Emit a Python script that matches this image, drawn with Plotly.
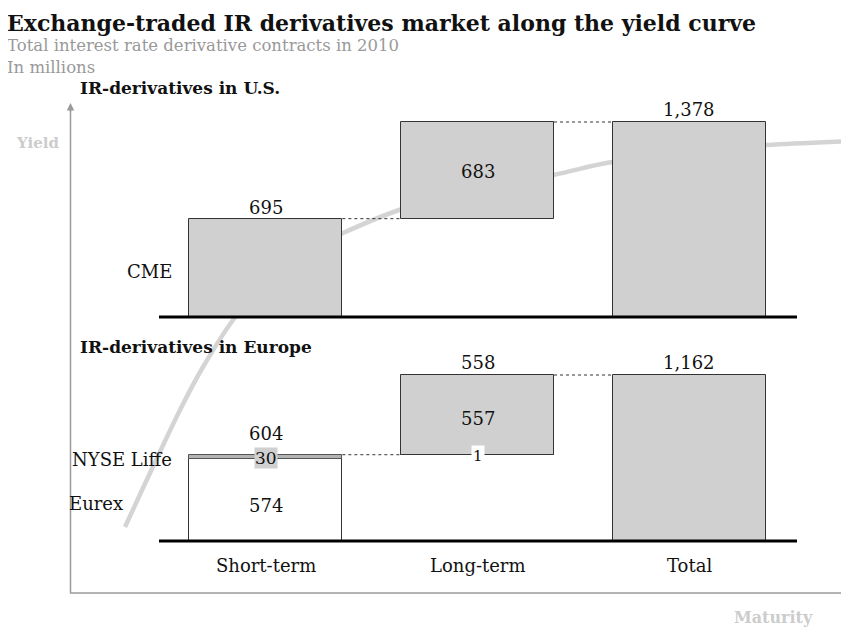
import plotly.graph_objects as go

# ---------------- data ----------------
categories = ["Short-term", "Long-term", "Total"]

# U.S. (CME)
us_values = [695, 683, 1378]
us_bases = [0, 695, 0]
us_labels = ["695", "683", "1,378"]

# Europe
eu_eurex = [574, 1]
eu_eurex_base = [0, 604]
eu_liffe = [30, 557]
eu_liffe_base = [574, 605]
eu_total = [1162]
eu_top_labels = ["604", "558", "1,162"]

# illustrative yield curve (pixel points)
curve_px = [(125, 527), (150, 473), (180, 410), (203, 367), (233, 320), (262, 287),
            (292, 262), (320, 246), (343, 233), (402, 209), (470, 191), (553, 175),
            (612, 162), (690, 152), (767, 145), (852, 141)]

# ---------------- layout constants ----------------
OFF = 8                      # default page margin of the html body
W, H = 849 - OFF, 627 - OFF  # figure size
FONT = "DejaVu Serif"
GRAY = "#d0d0d0"
EDGE = "#333333"
X0, X1 = 160, 795            # plot area (window px)
TOP_BASE, TOP_TOP = 317, 100
BOT_BASE, BOT_TOP = 541, 360
TOP_SCALE = 195 / 1378       # px per unit
BOT_SCALE = 166 / 1162
BW = 0.723


def px(x):
    return (x - OFF) / W


def py(y):
    return (H - (y - OFF)) / H


fig = go.Figure()

# top panel bars
fig.add_trace(go.Bar(x=categories, y=us_values, base=us_bases, width=BW,
                     marker=dict(color=GRAY, line=dict(color=EDGE, width=1)),
                     xaxis="x", yaxis="y", hoverinfo="skip", showlegend=False))
# bottom panel bars
fig.add_trace(go.Bar(x=categories[:2], y=eu_eurex, base=eu_eurex_base, width=BW,
                     marker=dict(color="white", line=dict(color=EDGE, width=1)),
                     xaxis="x2", yaxis="y2", hoverinfo="skip", showlegend=False))
fig.add_trace(go.Bar(x=categories[:2], y=eu_liffe, base=eu_liffe_base, width=BW,
                     marker=dict(color=["#b4b4b4", GRAY], line=dict(color=["#555555", EDGE], width=1)),
                     xaxis="x2", yaxis="y2", hoverinfo="skip", showlegend=False))
fig.add_trace(go.Bar(x=categories[2:], y=eu_total, base=[0], width=BW,
                     marker=dict(color=GRAY, line=dict(color=EDGE, width=1)),
                     xaxis="x2", yaxis="y2", hoverinfo="skip", showlegend=False))

shapes = []
annotations = []

# yield curve path (smooth, below everything)
pts = [(px(x), py(y)) for x, y in curve_px]
path = f"M {pts[0][0]},{pts[0][1]}"
for i in range(len(pts) - 1):
    p0 = pts[i - 1] if i > 0 else pts[i]
    p1 = pts[i]
    p2 = pts[i + 1]
    p3 = pts[i + 2] if i + 2 < len(pts) else pts[i + 1]
    c1 = (p1[0] + (p2[0] - p0[0]) / 6, p1[1] + (p2[1] - p0[1]) / 6)
    c2 = (p2[0] - (p3[0] - p1[0]) / 6, p2[1] - (p3[1] - p1[1]) / 6)
    path += f" C {c1[0]},{c1[1]} {c2[0]},{c2[1]} {p2[0]},{p2[1]}"
shapes.append(dict(type="path", path=path, xref="paper", yref="paper", layer="below",
                   line=dict(color="#d4d4d4", width=4.5)))

# axes (yield / maturity)
AX = "#9a9a9a"
shapes.append(dict(type="line", xref="paper", yref="paper", x0=px(70.5), x1=px(70.5),
                   y0=py(593), y1=py(108), line=dict(color=AX, width=1.5), layer="below"))
shapes.append(dict(type="line", xref="paper", yref="paper", x0=px(70), x1=px(849),
                   y0=py(593), y1=py(593), line=dict(color=AX, width=1.5), layer="below"))
shapes.append(dict(type="line", xref="paper", yref="paper", x0=px(848), x1=px(848),
                   y0=py(589), y1=py(597), line=dict(color=AX, width=1.5), layer="below"))
annotations.append(dict(x=px(70.5), y=py(103), xref="paper", yref="paper", text="",
                        showarrow=True, ax=0, ay=10, arrowhead=2, arrowsize=1,
                        arrowwidth=1.5, arrowcolor=AX))
annotations.append(dict(x=px(61), y=py(143), xref="paper", yref="paper", text="<b>Yield</b>",
                        showarrow=False, xanchor="right", yanchor="middle",
                        font=dict(family=FONT, size=15, color="#cccccc")))
annotations.append(dict(x=px(815), y=py(617), xref="paper", yref="paper", text="<b>Maturity</b>",
                        showarrow=False, xanchor="right", yanchor="middle",
                        font=dict(family=FONT, size=16, color="#cccccc")))

# baselines
for yb in (TOP_BASE, BOT_BASE):
    shapes.append(dict(type="line", xref="paper", yref="paper", x0=px(159), x1=px(797),
                       y0=py(yb), y1=py(yb), line=dict(color="black", width=3)))

# connectors
half = BW / 2
us_cum = us_bases[1] + us_values[1]
shapes.append(dict(type="line", xref="x", yref="y", x0=0 + half, x1=1 - half,
                   y0=us_values[0], y1=us_values[0], line=dict(color=EDGE, width=1, dash="dot")))
shapes.append(dict(type="line", xref="x", yref="y", x0=1 + half, x1=2 - half,
                   y0=us_cum, y1=us_cum, line=dict(color=EDGE, width=1, dash="dot")))
eu_short = eu_liffe_base[0] + eu_liffe[0]
eu_long = eu_liffe_base[1] + eu_liffe[1]
shapes.append(dict(type="line", xref="x2", yref="y2", x0=0 + half, x1=1 - half,
                   y0=eu_short, y1=eu_short, line=dict(color=EDGE, width=1, dash="dot")))
shapes.append(dict(type="line", xref="x2", yref="y2", x0=1 + half, x1=2 - half,
                   y0=eu_long, y1=eu_long, line=dict(color=EDGE, width=1, dash="dot")))

VF = dict(family=FONT, size=18, color="#111111")
LF = dict(family=FONT, size=18, color="#111111")

# top panel value labels
annotations.append(dict(x=categories[0], y=us_values[0], xref="x", yref="y", text=us_labels[0],
                        showarrow=False, yanchor="bottom", yshift=-1, font=VF))
annotations.append(dict(x=categories[1], y=us_bases[1] + us_values[1] / 2, xref="x", yref="y",
                        text=us_labels[1], showarrow=False, yanchor="middle", yshift=-1, font=VF))
annotations.append(dict(x=categories[2], y=us_values[2], xref="x", yref="y", text=us_labels[2],
                        showarrow=False, yanchor="bottom", yshift=0, font=VF))
annotations.append(dict(x=px(174), y=us_values[0] / 2, xref="paper", yref="y", text="CME",
                        showarrow=False, xanchor="right", yanchor="middle", yshift=-4, font=LF))

# bottom panel value labels
annotations.append(dict(x=categories[0], y=eu_short, xref="x2", yref="y2", text=eu_top_labels[0],
                        showarrow=False, yanchor="bottom", yshift=9, font=VF))
annotations.append(dict(x=categories[0], y=eu_liffe_base[0] + eu_liffe[0] / 2, xref="x2", yref="y2",
                        text=str(eu_liffe[0]), showarrow=False, yanchor="middle", bgcolor=GRAY,
                        borderpad=0, yshift=-1, font=dict(family=FONT, size=17, color="#111111")))
annotations.append(dict(x=categories[0], y=eu_eurex[0] / 2, xref="x2", yref="y2", text=str(eu_eurex[0]),
                        showarrow=False, yanchor="middle", yshift=-5, font=VF))
annotations.append(dict(x=categories[1], y=eu_long, xref="x2", yref="y2", text=eu_top_labels[1],
                        showarrow=False, yanchor="bottom", yshift=0, font=VF))
annotations.append(dict(x=categories[1], y=eu_liffe_base[1] + eu_liffe[1] / 2, xref="x2", yref="y2",
                        text=str(eu_liffe[1]), showarrow=False, yanchor="middle", yshift=-4, font=VF))
annotations.append(dict(x=categories[1], y=eu_eurex_base[1], xref="x2", yref="y2", text=str(eu_eurex[1]),
                        showarrow=False, yanchor="middle", yshift=-1, bgcolor="white", borderpad=1,
                        font=dict(family=FONT, size=15, color="#111111")))
annotations.append(dict(x=categories[2], y=eu_total[0], xref="x2", yref="y2", text=eu_top_labels[2],
                        showarrow=False, yanchor="bottom", yshift=0, font=VF))
annotations.append(dict(x=px(174), y=eu_liffe_base[0] + eu_liffe[0] / 2, xref="paper", yref="y2",
                        text="NYSE Liffe", showarrow=False, xanchor="right", yanchor="middle",
                        yshift=-3, font=LF))
annotations.append(dict(x=px(67), y=eu_eurex[0] / 2, xref="paper", yref="y2",
                        text="Eurex", showarrow=False, xanchor="left", yanchor="middle",
                        yshift=-3, font=LF))

# category labels
for c in categories:
    annotations.append(dict(x=c, y=py(565), xref="x2", yref="paper", text=c, showarrow=False,
                            yanchor="middle", font=LF))

# titles
annotations.append(dict(x=px(5), y=1.0, xref="paper", yref="paper",
                        text="<b>Exchange-traded IR derivatives market along the yield curve</b>",
                        showarrow=False, xanchor="left", yanchor="top",
                        font=dict(family=FONT, size=22, color="#111111")))
annotations.append(dict(x=px(5), y=py(45), xref="paper", yref="paper",
                        text="Total interest rate derivative contracts in 2010",
                        showarrow=False, xanchor="left", yanchor="middle",
                        font=dict(family=FONT, size=16.5, color="#999999")))
annotations.append(dict(x=px(5), y=py(68), xref="paper", yref="paper", text="In millions",
                        showarrow=False, xanchor="left", yanchor="middle",
                        font=dict(family=FONT, size=16.5, color="#999999")))
annotations.append(dict(x=px(78), y=py(88), xref="paper", yref="paper",
                        text="<b>IR-derivatives in U.S.</b>", showarrow=False, xanchor="left",
                        yanchor="middle", font=dict(family=FONT, size=17, color="#111111")))
annotations.append(dict(x=px(78), y=py(347), xref="paper", yref="paper",
                        text="<b>IR-derivatives in Europe</b>", showarrow=False, xanchor="left",
                        yanchor="middle", font=dict(family=FONT, size=17, color="#111111")))

ax_common = dict(showgrid=False, zeroline=False, showticklabels=False, ticks="",
                 showline=False, fixedrange=True)
fig.update_layout(
    width=W, height=H,
    margin=dict(l=0, r=0, t=0, b=0),
    paper_bgcolor="white", plot_bgcolor="rgba(0,0,0,0)",
    barmode="overlay", bargap=0,
    xaxis=dict(domain=[px(X0), px(X1)], range=[-0.5, 2.5], type="category",
               categoryorder="array", categoryarray=categories, anchor="y", **ax_common),
    yaxis=dict(domain=[py(TOP_BASE), py(TOP_TOP)],
               range=[0, (TOP_BASE - TOP_TOP) / TOP_SCALE], anchor="x", **ax_common),
    xaxis2=dict(domain=[px(X0), px(X1)], range=[-0.5, 2.5], type="category",
                categoryorder="array", categoryarray=categories, anchor="y2", **ax_common),
    yaxis2=dict(domain=[py(BOT_BASE), py(BOT_TOP)],
                range=[0, (BOT_BASE - BOT_TOP) / BOT_SCALE], anchor="x2", **ax_common),
    shapes=shapes,
    annotations=annotations,
    showlegend=False,
)

fig.write_html("out.html")
